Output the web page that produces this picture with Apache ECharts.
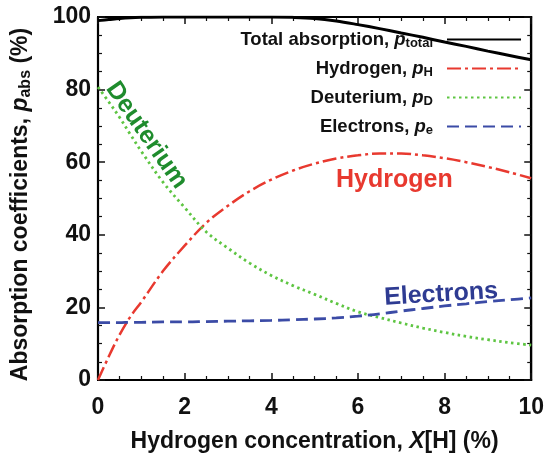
<!DOCTYPE html>
<html>
<head>
<meta charset="utf-8">
<script src="https://cdn.jsdelivr.net/npm/echarts@6/dist/echarts.min.js"></script>
<style>html,body{margin:0;padding:0;background:#fff}#c{width:547px;height:459px}</style>
</head>
<body>
<div id="c"></div>
<script>
const xValues = [0, 0.25, 0.5, 0.75, 1, 1.5, 2, 2.5, 3, 3.5, 4, 4.5, 5, 5.5, 6, 6.5, 7, 7.5, 8, 8.5, 9, 9.5, 10];
const totalAbs = [99.0, 99.3, 99.6, 99.8, 99.9, 100, 100, 100, 100, 100, 100, 99.9, 99.6, 98.9, 97.9, 96.8, 95.6, 94.4, 93.1, 91.9, 90.6, 89.4, 88.2];
const hydrogen = [0, 6.5, 12.5, 17.5, 21.5, 30, 37, 43.3, 48, 52, 55.2, 57.7, 59.6, 61.0, 61.9, 62.4, 62.4, 61.9, 61.1, 60.0, 58.7, 57.2, 55.6];
const deuterium = [80.7, 76.6, 72.3, 67.6, 63, 54.5, 47.5, 40.8, 36.3, 32.2, 28.8, 26, 23.6, 21.1, 18.8, 17.2, 15.7, 14.3, 13.1, 12.0, 11.1, 10.3, 9.6];
const electrons = [15.8, 15.8, 15.8, 15.9, 15.9, 16.0, 16.0, 16.1, 16.2, 16.3, 16.4, 16.6, 16.8, 17.1, 17.6, 18.2, 19.0, 19.7, 20.4, 21.0, 21.6, 22.1, 22.6];
const xTickLabels = ['0', '2', '4', '6', '8', '10'];
const yTickLabels = ['0', '20', '40', '60', '80', '100'];
const seriesNames = ['total', 'H', 'D', 'e'];
const legendTexts = {
  total: '{a|Total absorption, }{i|p}{s|total}{g|}',
  H: '{a|Hydrogen, }{i|p}{s|H}{g|}',
  D: '{a|Deuterium, }{i|p}{s|D}{g|}',
  e: '{a|Electrons, }{i|p}{s|e}{g|}'
};
const annotations = [
  {text: 'Deuterium', x: 1.12, y: 67.4, rot: -0.963, color: '#1f8c2d'},
  {text: 'Hydrogen', x: 6.84, y: 55.2, rot: 0, color: '#e8392f'},
  {text: 'Electrons', x: 7.92, y: 23.6, rot: 0.06, color: '#2e3b92'}
];

const FONT = '"Liberation Sans", Arial, Helvetica, sans-serif';
function pairs(ys) { return xValues.map((x, i) => [x, ys[i]]); }

function axisStyle() {
  return {
    axisLine: {show: true, onZero: false, lineStyle: {color: '#000', width: 2.2, type: 'solid'}},
    axisTick: {show: true, inside: true, length: 7, lineStyle: {color: '#111', width: 1.5}},
    minorTick: {show: true, splitNumber: 4, length: 4, lineStyle: {color: '#111', width: 1.2}},
    splitLine: {show: false}
  };
}

const option = {
  animation: false,
  backgroundColor: '#fff',
  grid: {left: 98, right: 15, top: 17, bottom: 79, containLabel: false,
         show: true, borderColor: '#000', borderWidth: 2, backgroundColor: 'transparent'},
  legend: {
    orient: 'vertical',
    right: 25,
    top: 30,
    padding: 0,
    align: 'right',
    itemWidth: 74,
    itemHeight: 14,
    itemGap: 9.5,
    data: seriesNames.map(n => ({name: n, itemStyle: {opacity: 0}})),
    formatter: n => legendTexts[n],
    textStyle: {
      color: '#111',
      rich: {
        a: {fontSize: 18.5, fontWeight: 'bold', fontFamily: FONT, lineHeight: 20, color: '#111'},
        i: {fontSize: 18.5, fontWeight: 'bold', fontStyle: 'italic', fontFamily: FONT, lineHeight: 20, color: '#111'},
        s: {fontSize: 13, fontWeight: 'bold', fontFamily: FONT, lineHeight: 10, verticalAlign: 'bottom', color: '#111'},
        g: {width: 9, lineHeight: 20}
      }
    }
  },
  xAxis: [
    Object.assign(axisStyle(), {
      type: 'value', min: 0, max: 10, interval: 2, position: 'bottom',
      name: '{a|Hydrogen concentration, }{i|X}{a|[H] (%)}',
      nameLocation: 'middle', nameGap: 50,
      nameTextStyle: {
        rich: {
          a: {fontSize: 23, fontWeight: 'bold', fontFamily: FONT, color: '#111'},
          i: {fontSize: 23, fontWeight: 'bold', fontStyle: 'italic', fontFamily: FONT, color: '#111'}
        }
      },
      axisLabel: {
        margin: 16, fontSize: 23, fontWeight: 'bold', fontFamily: FONT, color: '#111',
        formatter: v => xTickLabels[Math.round(v / 2)]
      }
    }),
    Object.assign(axisStyle(), {
      type: 'value', min: 0, max: 10, interval: 2, position: 'top',
      axisLabel: {show: false}
    })
  ],
  yAxis: [
    Object.assign(axisStyle(), {
      type: 'value', min: 0, max: 100, interval: 20, position: 'left',
      name: '{a|Absorption coefficients, }{i|p}{s|abs}{a| (%)}',
      nameLocation: 'middle', nameGap: 64, nameRotate: 90,
      nameTextStyle: {
        padding: [0, 12, 0, 0],
        rich: {
          a: {fontSize: 23, fontWeight: 'bold', fontFamily: FONT, lineHeight: 26, color: '#111'},
          i: {fontSize: 23, fontWeight: 'bold', fontStyle: 'italic', fontFamily: FONT, lineHeight: 26, color: '#111'},
          s: {fontSize: 16, fontWeight: 'bold', fontFamily: FONT, lineHeight: 14, verticalAlign: 'bottom', color: '#111'}
        }
      },
      axisLabel: {
        margin: 7, fontSize: 23, fontWeight: 'bold', fontFamily: FONT, color: '#111',
        formatter: v => yTickLabels[Math.round(v / 20)]
      }
    }),
    Object.assign(axisStyle(), {
      type: 'value', min: 0, max: 100, interval: 20, position: 'right',
      axisLabel: {show: false}
    })
  ],
  series: [
    {name: 'total', type: 'line', data: pairs(totalAbs), smooth: 0.35, symbol: 'none', z: 5,
     lineStyle: {color: '#000', width: 3}, itemStyle: {color: '#000'}},
    {name: 'H', type: 'line', data: pairs(hydrogen), smooth: 0.35, symbol: 'none',
     lineStyle: {color: '#e8392f', width: 2.5, type: [14, 4, 3, 4]}, itemStyle: {color: '#e8392f'}},
    {name: 'D', type: 'line', data: pairs(deuterium), smooth: 0.35, symbol: 'none',
     lineStyle: {color: '#5ec542', width: 2.8, type: [2.5, 3.5]}, itemStyle: {color: '#5ec542'}},
    {name: 'e', type: 'line', data: pairs(electrons), smooth: 0.35, symbol: 'none',
     lineStyle: {color: '#3b4ba6', width: 2.8, type: [12, 6]}, itemStyle: {color: '#3b4ba6'}}
  ]
};

const chart = echarts.init(document.getElementById('c'), null, {renderer: 'canvas'});
chart.setOption(option);
const graphics = annotations.map(a => {
  const p = chart.convertToPixel({gridIndex: 0}, [a.x, a.y]);
  return {
    type: 'text', x: p[0], y: p[1], rotation: a.rot, z: 10,
    style: {
      text: a.text, fill: a.color,
      font: 'bold 25px ' + FONT,
      align: 'center', verticalAlign: 'middle',
      textAlign: 'center', textVerticalAlign: 'middle'
    }
  };
});
chart.setOption({graphic: graphics});
</script>
</body>
</html>
